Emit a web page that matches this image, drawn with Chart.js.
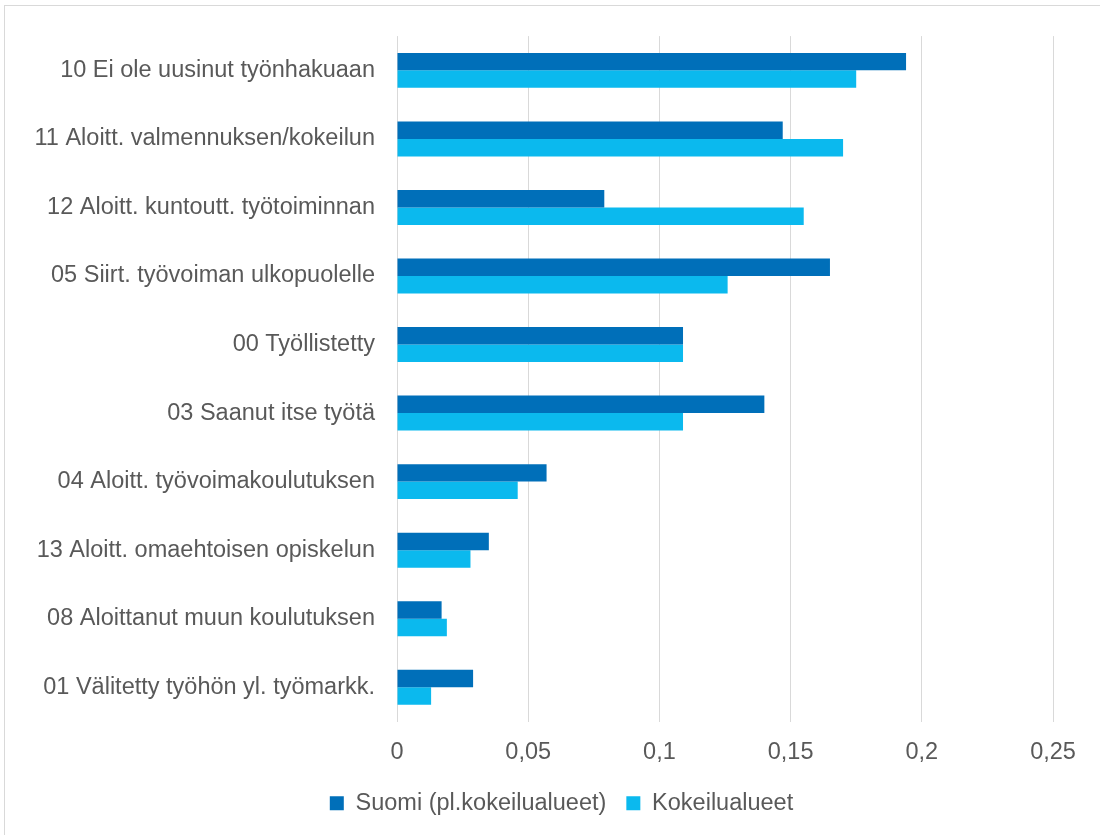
<!DOCTYPE html>
<html>
<head>
<meta charset="utf-8">
<script src="https://cdn.jsdelivr.net/npm/chart.js@4"></script>
<style>
  html, body { margin: 0; padding: 0; background: #fff; overflow: hidden; }
  #frame { position: absolute; left: 4px; top: 5px; width: 1200px; height: 900px; border: 1px solid #d9d9d9; }
  #wrap { position: absolute; left: 0; top: 0; width: 1100px; height: 835px; }
</style>
</head>
<body>
<div id="frame"></div>
<div id="wrap"><canvas id="myChart"></canvas></div>
<script>
// categories, top to bottom
var labels = [
  "10 Ei ole uusinut työnhakuaan",
  "11 Aloitt. valmennuksen/kokeilun",
  "12 Aloitt. kuntoutt. työtoiminnan",
  "05 Siirt. työvoiman ulkopuolelle",
  "00 Työllistetty",
  "03 Saanut itse työtä",
  "04 Aloitt. työvoimakoulutuksen",
  "13 Aloitt. omaehtoisen opiskelun",
  "08 Aloittanut muun koulutuksen",
  "01 Välitetty työhön yl. työmarkk."
];
var suomi = [0.194, 0.147, 0.079, 0.165, 0.109, 0.140, 0.057, 0.035, 0.017, 0.029];
var kokeilu = [0.175, 0.170, 0.155, 0.126, 0.109, 0.109, 0.046, 0.028, 0.019, 0.013];
var seriesNames = ["Suomi (pl.kokeilualueet)", "Kokeilualueet"];

var font = "'Liberation Sans', Arial, sans-serif";
var textColor = "#595959";
var fontSize = 23.5;

// legend in the original sits centred on the whole picture, not on the plot
var shiftLegend = {
  id: "shiftLegend",
  afterLayout: function (chart) {
    chart.legend.left += 35;
    chart.legend.right += 35;
  }
};

var ctx = document.getElementById("myChart").getContext("2d");
var chart = new Chart(ctx, {
  type: "bar",
  data: {
    labels: labels,
    datasets: [
      {
        label: seriesNames[0],
        data: suomi,
        backgroundColor: "#006fb9",
        barPercentage: 1,
        categoryPercentage: 0.51
      },
      {
        label: seriesNames[1],
        data: kokeilu,
        backgroundColor: "#0bb9ee",
        barPercentage: 1,
        categoryPercentage: 0.51
      }
    ]
  },
  plugins: [shiftLegend],
  options: {
    indexAxis: "y",
    responsive: true,
    maintainAspectRatio: false,
    animation: false,
    layout: { padding: { top: 33, right: 47, bottom: 10, left: 0 } },
    plugins: {
      tooltip: { enabled: false },
      legend: {
        position: "bottom",
        labels: {
          font: { family: font, size: fontSize },
          color: textColor,
          boxWidth: 14,
          boxHeight: 14,
          padding: 20
        }
      }
    },
    scales: {
      x: {
        min: 0,
        max: 0.25,
        ticks: {
          stepSize: 0.05,
          font: { family: font, size: fontSize },
          color: textColor,
          padding: 17,
          callback: function (v) {
            return Number(v.toFixed(2)).toString().replace(".", ",");
          }
        },
        grid: { color: "#d9d9d9", lineWidth: 1, drawTicks: false },
        border: { display: false },
        afterFit: function (s) { s.height = 50; }
      },
      y: {
        ticks: {
          font: { family: font, size: fontSize },
          color: textColor,
          padding: 22
        },
        grid: { display: false, drawTicks: false },
        border: { display: false },
        afterFit: function (s) { s.width = 397; }
      }
    }
  }
});
</script>
</body>
</html>
